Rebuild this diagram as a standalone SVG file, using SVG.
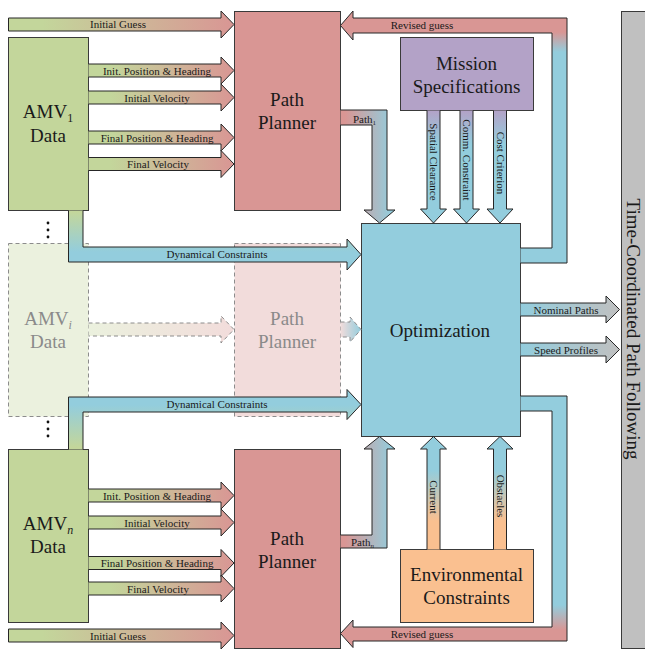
<svg xmlns="http://www.w3.org/2000/svg" width="645" height="650" viewBox="0 0 645 650">
<style>
.box{stroke:#3a3a3a;stroke-width:1}
.arr{stroke:#262626;stroke-width:1;stroke-linejoin:miter}
.dash{stroke:#8c8c8c;stroke-width:1;stroke-dasharray:4,3}
.big{font-family:"Liberation Serif","Times New Roman",serif;font-size:19px;fill:#1a1a1a;text-anchor:middle}
.fade{fill:#8a8a8a}
.lbl{font-family:"Liberation Serif","Times New Roman",serif;font-size:11px;fill:#1a1a1a;text-anchor:middle}
.lbs{font-family:"Liberation Serif","Times New Roman",serif;font-size:11px;fill:#1a1a1a}
</style>
<defs>
<linearGradient id="gp" x1="0" y1="0" x2="1" y2="0"><stop offset="0.15" stop-color="#c3d69b"/><stop offset="1" stop-color="#d99694"/></linearGradient>
<linearGradient id="gpf" x1="0" y1="0" x2="1" y2="0"><stop offset="0" stop-color="#ebf1de"/><stop offset="1" stop-color="#f2dcdb"/></linearGradient>
<linearGradient id="pbf" x1="0" y1="0" x2="1" y2="0"><stop offset="0" stop-color="#f2dcdb"/><stop offset="1" stop-color="#93cddd"/></linearGradient>
<linearGradient id="bg" x1="0" y1="0" x2="1" y2="0"><stop offset="0" stop-color="#93cddd"/><stop offset="1" stop-color="#c0c0c0"/></linearGradient>
<linearGradient id="mb" x1="0" y1="0" x2="0" y2="1"><stop offset="0" stop-color="#b3a2c7"/><stop offset="0.3" stop-color="#93cddd"/></linearGradient>
<linearGradient id="ob" x1="0" y1="0" x2="0" y2="1"><stop offset="0.3" stop-color="#93cddd"/><stop offset="0.75" stop-color="#fac090"/></linearGradient>
<linearGradient id="dc1" gradientUnits="userSpaceOnUse" x1="0" y1="212" x2="0" y2="252"><stop offset="0" stop-color="#c3d69b"/><stop offset="1" stop-color="#93cddd"/></linearGradient>
<linearGradient id="dc2" gradientUnits="userSpaceOnUse" x1="0" y1="405" x2="0" y2="447"><stop offset="0" stop-color="#93cddd"/><stop offset="1" stop-color="#c3d69b"/></linearGradient>
<linearGradient id="rg1" gradientUnits="userSpaceOnUse" x1="0" y1="32" x2="0" y2="52"><stop offset="0" stop-color="#d99694"/><stop offset="1" stop-color="#93cddd"/></linearGradient>
<linearGradient id="rg2" gradientUnits="userSpaceOnUse" x1="0" y1="605" x2="0" y2="630"><stop offset="0" stop-color="#93cddd"/><stop offset="1" stop-color="#d99694"/></linearGradient>
<linearGradient id="pp" gradientUnits="userSpaceOnUse" x1="345" y1="0" x2="392" y2="0"><stop offset="0" stop-color="#d99694"/><stop offset="1" stop-color="#93cddd"/></linearGradient>
</defs>

<g id="time-coordinated">
<rect class="box" x="621.5" y="11.5" width="30" height="637" fill="#c0c0c0"/>
<text class="big" transform="translate(627,329) rotate(90)">Time-Coordinated Path Following</text>
</g>

<g id="amv1">
<rect class="box" x="8.5" y="37.5" width="80" height="173" fill="#c3d69b"/>
<text class="big" x="48" y="118">AMV<tspan font-size="12" dy="4">1</tspan></text>
<text class="big" x="48" y="142">Data</text>
</g>
<g id="planner1">
<rect class="box" x="234.5" y="11.5" width="106" height="199" fill="#d99694"/>
<text class="big" x="287" y="106">Path</text>
<text class="big" x="287" y="129">Planner</text>
</g>
<g id="amvi">
<rect class="dash" x="8.5" y="243.5" width="80" height="173" fill="#ebf1de"/>
<text class="big fade" x="48" y="325">AMV<tspan font-size="12" font-style="italic" dy="4">i</tspan></text>
<text class="big fade" x="48" y="348">Data</text>
</g>
<g id="planneri">
<rect class="dash" x="234.5" y="243.5" width="106" height="173" fill="#f2dcdb"/>
<text class="big fade" x="287" y="325">Path</text>
<text class="big fade" x="287" y="348">Planner</text>
</g>
<g id="amvn">
<rect class="box" x="8.5" y="449.5" width="80" height="173" fill="#c3d69b"/>
<text class="big" x="48" y="530">AMV<tspan font-size="12" font-style="italic" dy="4">n</tspan></text>
<text class="big" x="48" y="553">Data</text>
</g>
<g id="plannern">
<rect class="box" x="234.5" y="449.5" width="106" height="199" fill="#d99694"/>
<text class="big" x="287" y="545">Path</text>
<text class="big" x="287" y="568">Planner</text>
</g>
<g id="mission">
<rect class="box" x="400.5" y="37.5" width="133" height="73" fill="#b3a2c7"/>
<text class="big" x="466.5" y="70">Mission</text>
<text class="big" x="466.5" y="93">Specifications</text>
</g>
<g id="optimization">
<rect class="box" x="361.5" y="223.5" width="159" height="213" fill="#93cddd"/>
<text class="big" x="440" y="337">Optimization</text>
</g>
<g id="environmental">
<rect class="box" x="400.5" y="549.5" width="133" height="73" fill="#fac090"/>
<text class="big" x="466.5" y="581">Environmental</text>
<text class="big" x="466.5" y="604">Constraints</text>
</g>

<g id="dots" fill="#111">
<circle cx="48" cy="223" r="1.4"/><circle cx="48" cy="230" r="1.4"/><circle cx="48" cy="237" r="1.4"/>
<circle cx="48" cy="422" r="1.4"/><circle cx="48" cy="429" r="1.4"/><circle cx="48" cy="436" r="1.4"/>
</g>

<g id="connectors">
<path class="arr" fill="url(#gp)" d="M8.5,18 H221 V11 L234,24.5 L221,38 V31 H8.5 Z"/>
<path class="arr" fill="url(#gp)" d="M88.5,64 H221 V57 L234,70.5 L221,84 V77 H88.5"/>
<path class="arr" fill="url(#gp)" d="M88.5,91 H221 V84 L234,97.5 L221,111 V104 H88.5"/>
<path class="arr" fill="url(#gp)" d="M88.5,131 H221 V124 L234,137.5 L221,151 V144 H88.5"/>
<path class="arr" fill="url(#gp)" d="M88.5,157.5 H221 V150.5 L234,164 L221,177.5 V170.5 H88.5"/>
<path class="arr" fill="url(#gp)" d="M88.5,489 H221 V482 L234,495.5 L221,509 V502 H88.5"/>
<path class="arr" fill="url(#gp)" d="M88.5,516 H221 V509 L234,522.5 L221,536 V529 H88.5"/>
<path class="arr" fill="url(#gp)" d="M88.5,556.5 H221 V549.5 L234,563 L221,576.5 V569.5 H88.5"/>
<path class="arr" fill="url(#gp)" d="M88.5,582 H221 V575 L234,588.5 L221,602 V595 H88.5"/>
<path class="arr" fill="url(#gp)" d="M8.5,629 H221 V622 L234,635.5 L221,649 V642 H8.5 Z"/>
<path class="dash" fill="url(#gpf)" d="M88.5,323 H221 V316 L234,329.5 L221,343 V336 H88.5"/>
<path class="dash" fill="url(#pbf)" d="M340.5,322 H350 V317 L361,329.5 L350,342 V337 H340.5"/>
<path class="arr" fill="url(#dc1)" d="M68.5,210.5 V262 H347 V270 L361,254.5 L347,239 V247 H83 V210.5"/>
<path class="arr" fill="url(#dc2)" d="M68.5,449.5 V397 H347 V389.5 L361,404.5 L347,419.5 V412 H83 V449.5"/>
<path class="arr" fill="url(#pp)" d="M340.5,110 H387 V210 H395 L379.5,223 L364,210 H372 V125 H340.5"/>
<path class="arr" fill="url(#pp)" d="M340.5,548 H387 V449 H395 L379.5,436.5 L364,449 H372 V535 H340.5"/>
<path class="arr" fill="url(#rg1)" d="M520.5,248 H552 V33 H353 V40 L340.5,25.5 L353,11 V18 H567 V263 H520.5"/>
<path class="arr" fill="url(#rg2)" d="M520.5,396 H567 V641 H353 V647.5 L340.5,633.5 L353,620 V627 H552 V411 H520.5"/>
<path class="arr" fill="url(#mb)" d="M427,110.5 V209 H420.5 L433.5,223 L446.5,209 H440 V110.5"/>
<path class="arr" fill="url(#mb)" d="M460,110.5 V209 H453.5 L466.5,223 L479.5,209 H473 V110.5"/>
<path class="arr" fill="url(#mb)" d="M493.5,110.5 V209 H487 L500,223 L513,209 H506.5 V110.5"/>
<path class="arr" fill="url(#ob)" d="M427,549.5 V449 H420.5 L433.5,436.5 L446.5,449 H440 V549.5"/>
<path class="arr" fill="url(#ob)" d="M493.5,549.5 V449 H487 L500,436.5 L513,449 H506.5 V549.5"/>
<path class="arr" fill="url(#bg)" d="M520.5,303 H606 V296 L619.5,309.5 L606,323 V316 H520.5"/>
<path class="arr" fill="url(#bg)" d="M520.5,343 H606 V336 L619.5,349.5 L606,363 V356 H520.5"/>
</g>

<g id="labels">
<text class="lbl" x="118" y="28">Initial Guess</text>
<text class="lbl" x="157" y="74.5">Init. Position &amp; Heading</text>
<text class="lbl" x="157" y="101.5">Initial Velocity</text>
<text class="lbl" x="157" y="141.5">Final Position &amp; Heading</text>
<text class="lbl" x="158" y="168">Final Velocity</text>
<text class="lbl" x="157" y="500">Init. Position &amp; Heading</text>
<text class="lbl" x="157" y="526.5">Initial Velocity</text>
<text class="lbl" x="157" y="567">Final Position &amp; Heading</text>
<text class="lbl" x="158" y="592.5">Final Velocity</text>
<text class="lbl" x="118" y="639.5">Initial Guess</text>
<text class="lbl" x="217" y="258">Dynamical Constraints</text>
<text class="lbl" x="217" y="408">Dynamical Constraints</text>
<text class="lbs" x="353" y="123">Path<tspan font-size="7" dy="2">1</tspan></text>
<text class="lbs" x="351" y="546">Path<tspan font-size="7" font-style="italic" dy="2">n</tspan></text>
<text class="lbl" x="422" y="29">Revised guess</text>
<text class="lbl" x="422" y="638">Revised guess</text>
<text class="lbl" x="566" y="314">Nominal Paths</text>
<text class="lbl" x="566" y="354">Speed Profiles</text>
<text class="lbl" transform="translate(430,162) rotate(90)">Spatial Clearance</text>
<text class="lbl" transform="translate(463,160) rotate(90)">Comm. Constraint</text>
<text class="lbl" transform="translate(496.5,163) rotate(90)">Cost Criterion</text>
<text class="lbl" transform="translate(430,497) rotate(90)">Current</text>
<text class="lbl" transform="translate(496.5,496) rotate(90)">Obstacles</text>
</g>
</svg>
